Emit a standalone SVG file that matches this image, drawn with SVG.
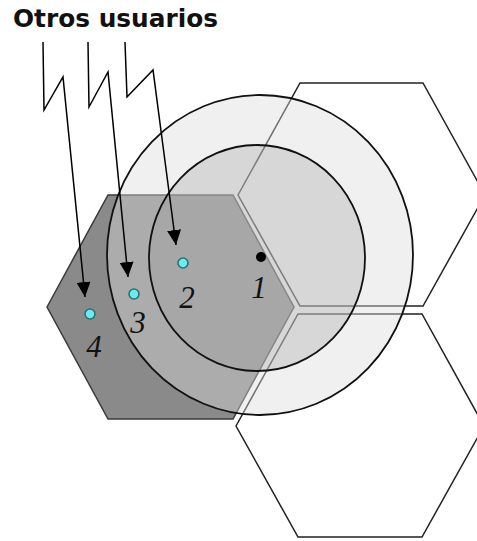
<svg xmlns="http://www.w3.org/2000/svg" width="477" height="541" viewBox="0 0 477 541">
<style>
.cell{fill:#ffffff;stroke:#222222;stroke-width:1.5;stroke-linejoin:miter}
.ring{stroke:none}
.edge{fill:none;stroke:#111111;stroke-width:1.8}
.arrow{fill:none;stroke:#000000;stroke-width:1.5;marker-end:url(#head)}
.user{fill:#66eeee;stroke:#2f6f70;stroke-width:1.6}
.num{font-family:"Liberation Serif","Times New Roman",serif;font-style:italic;font-size:31px;fill:#111111;text-anchor:middle}
.title{font-family:"DejaVu Sans",Verdana,sans-serif;font-weight:bold;font-size:24px;fill:#111111}
</style>
<defs>
<marker id="head" markerUnits="userSpaceOnUse" markerWidth="16" markerHeight="14" refX="15" refY="7" orient="auto">
<path d="M0,0 L15,7 L0,14 Z" fill="#000000"/>
</marker>
</defs>
<rect width="477" height="541" fill="#ffffff"/>
<g id="cell-upper-right"><polygon class="cell" points="238,195 300,83 423,83 485,195 423,306 300,306"/></g>
<g id="cell-lower-right"><polygon class="cell" points="236,426 298,314 422,314 484,426 422,537 298,537"/></g>
<g id="cell-serving"><polygon points="47,307 108,195 233,195 294,307 233,419 108,419" fill="#8a8a8a" stroke="#3a3a3a" stroke-width="1.5"/></g>
<g id="coverage-outer"><ellipse class="ring" cx="260" cy="255" rx="153" ry="160" fill="#dcdcdc" fill-opacity="0.42"/></g>
<g id="coverage-inner"><ellipse class="ring" cx="257" cy="258" rx="108" ry="113" fill="#9e9e9e" fill-opacity="0.294"/></g>
<g id="coverage-edges">
<ellipse class="edge" cx="260" cy="255" rx="153" ry="160"/>
<ellipse class="edge" cx="257" cy="258" rx="108" ry="113"/>
</g>
<g id="title"><text class="title" x="13" y="27" textLength="205" lengthAdjust="spacingAndGlyphs">Otros usuarios</text></g>
<g id="connectors">
<path class="arrow" d="M43,42 L44,110 L63,77 L85,297"/>
<path class="arrow" d="M88,42 L89,107 L108,72 L128,277"/>
<path class="arrow" d="M125,42 L127,97 L153,70 L176,245"/>
</g>
<g id="user-1"><circle cx="261" cy="257" r="5" fill="#000000"/><text class="num" x="259" y="298">1</text></g>
<g id="user-2"><circle class="user" cx="183" cy="263" r="5"/><text class="num" x="187" y="308">2</text></g>
<g id="user-3"><circle class="user" cx="134" cy="294" r="5"/><text class="num" x="138" y="333">3</text></g>
<g id="user-4"><circle class="user" cx="90" cy="314" r="5"/><text class="num" x="94" y="357">4</text></g>
</svg>
